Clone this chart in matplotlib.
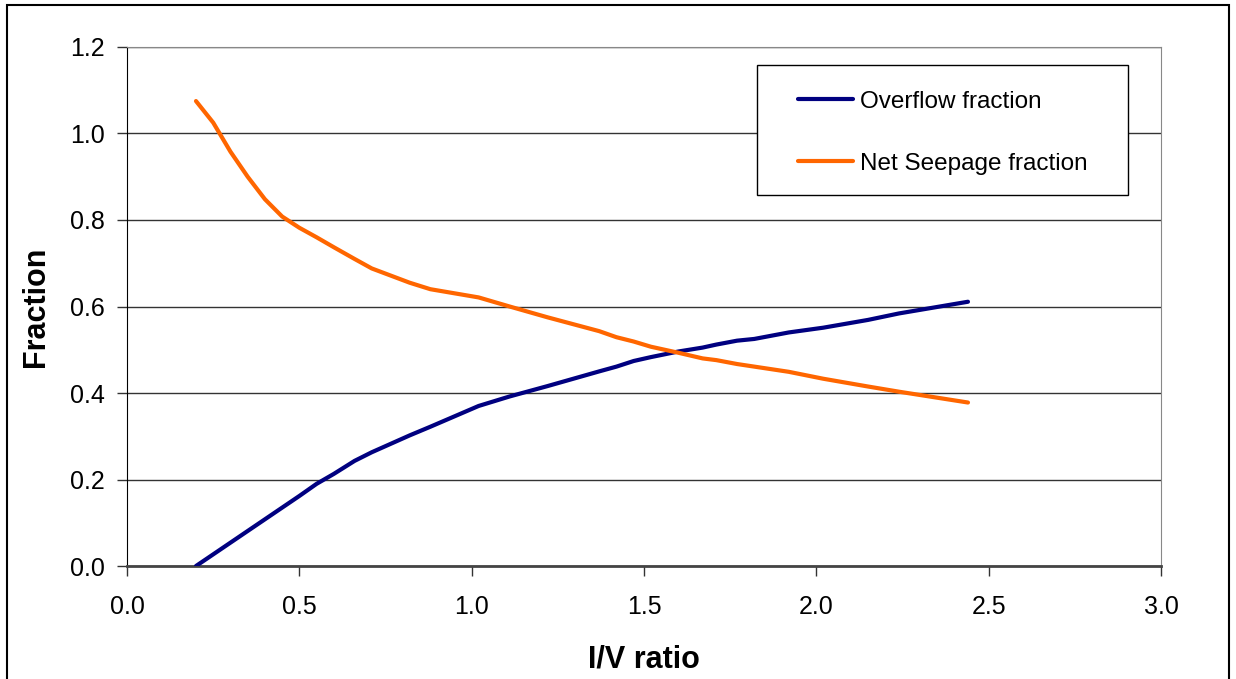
import matplotlib
matplotlib.use("Agg")
import matplotlib.pyplot as plt
from matplotlib.patches import Rectangle
from matplotlib.ticker import FormatStrFormatter

# values
iv_ratio = [0.2, 0.25, 0.3, 0.35, 0.4, 0.45, 0.5, 0.55, 0.6, 0.66, 0.71, 0.82,
            0.88, 1.02, 1.11, 1.22, 1.37, 1.42, 1.47, 1.52, 1.6, 1.67, 1.71,
            1.77, 1.82, 1.92, 2.02, 2.15, 2.24, 2.44]
overflow = [0.0, 0.027, 0.054, 0.081, 0.108, 0.135, 0.162, 0.19, 0.213, 0.243,
            0.263, 0.302, 0.322, 0.370, 0.392, 0.416, 0.450, 0.461, 0.474,
            0.483, 0.496, 0.505, 0.512, 0.521, 0.525, 0.540, 0.551, 0.569,
            0.584, 0.611]
seepage = [1.075, 1.025, 0.958, 0.9, 0.848, 0.808, 0.782, 0.76, 0.737, 0.71,
           0.688, 0.655, 0.640, 0.621, 0.600, 0.575, 0.543, 0.529, 0.519,
           0.507, 0.493, 0.480, 0.476, 0.467, 0.461, 0.449, 0.433, 0.415,
           0.403, 0.378]

plt.rcParams['font.family'] = ['Liberation Sans', 'DejaVu Sans']

fig = plt.figure(figsize=(12.36, 6.79), dpi=100)
ax = fig.add_axes([0.1028, 0.1664, 0.8365, 0.7644])

ax.plot(iv_ratio, overflow, color='#000080', lw=3, solid_capstyle='round',
        label='Overflow fraction', zorder=3)
ax.plot(iv_ratio, seepage, color='#FF6600', lw=3, solid_capstyle='round',
        label='Net Seepage fraction', zorder=3)

ax.set_xlim(0, 3.0)
ax.set_ylim(0, 1.2)
ax.set_xticks([0, 0.5, 1.0, 1.5, 2.0, 2.5, 3.0])
ax.set_yticks([0, 0.2, 0.4, 0.6, 0.8, 1.0, 1.2])
ax.xaxis.set_major_formatter(FormatStrFormatter('%.1f'))
ax.yaxis.set_major_formatter(FormatStrFormatter('%.1f'))
ax.grid(axis='y', color='#333333', lw=1)
ax.tick_params(labelsize=18, length=7, width=1, color='#333333')
ax.tick_params(axis='x', pad=14)
ax.tick_params(axis='y', pad=9)

for s in ['top', 'right']:
    ax.spines[s].set_color('#888888')
ax.spines['left'].set_color('black')
ax.spines['bottom'].set_color('#444444')
ax.spines['bottom'].set_linewidth(2)

ax.set_xlabel('I/V ratio', fontsize=22, fontweight='bold', labelpad=18)
ax.set_ylabel('Fraction', fontsize=22, fontweight='bold', labelpad=14)

# legend box drawn by hand, entries placed inside it
ax.add_patch(Rectangle((0.609, 0.715), 0.359, 0.25, transform=ax.transAxes,
                       facecolor='white', edgecolor='black', lw=1, zorder=4))
leg = ax.legend(loc='center left', bbox_to_anchor=(0.649, 0.835),
                fontsize=17.5, frameon=False, handlelength=2.26,
                handletextpad=0.3, labelspacing=1.65, borderpad=0,
                borderaxespad=0)
leg.set_zorder(5)

fig.patches.append(Rectangle((0.0057, -0.01), 0.9886, 1.0026, fill=False,
                             edgecolor='black', lw=1.5,
                             transform=fig.transFigure, figure=fig))

fig.savefig('out.png', dpi=100)
